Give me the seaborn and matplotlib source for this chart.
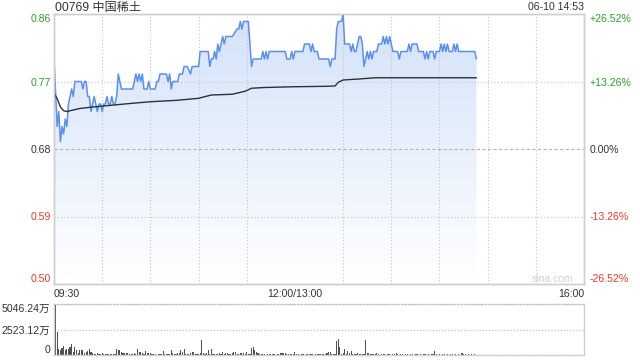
import numpy as np
import matplotlib
matplotlib.use("Agg")
import matplotlib.pyplot as plt
import seaborn as sns
from matplotlib.colors import LinearSegmentedColormap

sns.set_theme(style="white")
plt.rcParams['font.family'] = ['Liberation Sans', 'Noto Sans CJK SC', 'DejaVu Sans']

# ---------------- data ----------------
title = "00769 中国稀土"
stamp = "06-10 14:53"
watermark = "sina.com"
price_ticks = [0.86, 0.77, 0.68, 0.59, 0.50]
price_tick_labels = ["0.86", "0.77", "0.68", "0.59", "0.50"]
pct_labels = ["+26.52%", "+13.26%", "0.00%", "-13.26%", "-26.52%"]
time_tick_minutes = [0, 150, 330]          # trading minutes since 09:30 (lunch removed)
time_tick_labels = ["09:30", "12:00/13:00", "16:00"]
vol_ticks = [0, 2523.12, 5046.24]
vol_tick_labels = ["0", "2523.12万", "5046.24万"]

price_minutes = [0, 2, 3, 4, 5, 6, 7, 8, 9, 10, 11, 12, 13, 17, 18, 19, 20, 21, 22, 23,
                 24, 25, 27, 28, 29, 30, 31, 32, 33, 34, 35, 36, 37, 38, 39, 40, 41, 42, 49, 50,
                 51, 52, 53, 54, 55, 56, 58, 59, 60, 63, 64, 65, 66, 70, 71, 72, 73, 74, 77, 78,
                 80, 81, 83, 85, 86, 90, 91, 96, 97, 98, 99, 100, 101, 102, 103, 104, 105, 106, 107, 111,
                 114, 115, 116, 117, 118, 121, 123, 124, 129, 130, 131, 132, 133, 134, 144, 145, 147, 148, 149, 150,
                 155, 156, 159, 160, 161, 162, 164, 165, 171, 172, 173, 175, 176, 177, 179, 180, 181, 184, 185, 186,
                 187, 188, 189, 190, 191, 192, 193, 195, 196, 197, 198, 199, 201, 202, 204, 205, 206, 207, 208, 209,
                 210, 211, 214, 215, 216, 220, 221, 222, 223, 226, 227, 230, 231, 232, 233, 234, 236, 237, 238, 240,
                 241, 242, 243, 244, 245, 246, 248, 249, 250, 251, 252, 262, 263]
price_values = [.80, .71, .73, .69, .71, .70, .72, .71, .74, .75, .76, .75, .77, .77, .76, .77, .77, .75, .75, .73,
                .74, .75, .73, .74, .74, .73, .74, .74, .75, .74, .74, .75, .74, .74, .75, .78, .77, .76, .76, .77,
                .78, .77, .78, .77, .78, .76, .76, .77, .76, .76, .77, .77, .78, .78, .77, .78, .76, .77, .77, .78,
                .78, .79, .79, .78, .79, .79, .81, .81, .79, .80, .80, .81, .80, .82, .81, .82, .83, .82, .83, .83,
                .84, .84, .85, .84, .85, .85, .79, .80, .80, .81, .80, .81, .80, .81, .81, .80, .80, .81, .80, .81,
                .81, .82, .82, .81, .82, .81, .81, .80, .80, .79, .80, .80, .84, .85, .85, .86, .82, .82, .81, .82,
                .81, .81, .82, .83, .83, .82, .79, .81, .80, .81, .80, .81, .81, .82, .82, .83, .82, .83, .82, .83,
                .82, .81, .81, .80, .81, .81, .82, .81, .82, .82, .81, .81, .80, .81, .80, .81, .81, .80, .81, .81,
                .82, .81, .82, .81, .82, .81, .81, .82, .81, .82, .81, .81, .80]

avg_minutes = [0, 2, 4, 6, 8, 10, 16, 22, 29, 39, 49, 60, 77, 90, 98, 111, 119, 123, 131, 149,
               167, 175, 177, 180, 191, 200, 263]
avg_values = [.755, .747, .736, .731, .730, .731, .734, .7355, .737, .739, .741, .743, .745, .7476, .752,
              .753, .757, .761, .762, .763, .7635, .764, .769, .772, .7735, .775, .775]

volume = [3100, 5046.24, 2320, 560, 500, 730, 900, 500, 560, 560,
          830, 1130, 330, 760, 500, 170, 500, 500, 500, 200,
          330, 430, 560, 330, 200, 60, 100, 170, 60, 100,
          230, 100, 130, 100, 60, 100, 100, 60, 70, 560,
          500, 500, 330, 170, 230, 170, 170, 100, 70, 70,
          170, 100, 560, 330, 330, 230, 100, 400, 230, 230,
          170, 100, 100, 70, 30, 70, 70, 70, 400, 100,
          70, 70, 70, 500, 170, 70, 100, 170, 230, 500,
          330, 560, 70, 70, 70, 170, 270, 330, 70, 70,
          70, 170, 1490, 170, 100, 230, 500, 100, 560, 100,
          70, 70, 100, 170, 70, 330, 70, 170, 230, 100,
          70, 170, 330, 330, 70, 70, 170, 170, 170, 70,
          330, 70, 70, 660, 830, 500, 330, 230, 100, 70,
          70, 60, 40, 80, 50, 60, 100, 50, 40, 60,
          80, 200, 230, 170, 200, 60, 50, 80, 60, 100,
          330, 60, 50, 40, 100, 60, 40, 50, 60, 80,
          50, 60, 40, 100, 60, 50, 80, 60, 50, 100,
          170, 330, 300, 100, 60, 80, 1420, 1590, 760, 100,
          170, 560, 100, 430, 230, 430, 60, 100, 60, 170,
          100, 60, 80, 60, 1490, 170, 230, 60, 50, 100,
          60, 170, 50, 40, 100, 60, 50, 40, 60, 50,
          40, 60, 50, 170, 60, 40, 50, 60, 40, 50,
          60, 40, 60, 50, 40, 60, 50, 40, 60, 40,
          50, 60, 40, 50, 40, 60, 50, 400, 60, 40,
          50, 40, 60, 50, 40, 50, 40, 60, 50, 40,
          50, 40, 60, 40, 170, 50, 60, 40, 50, 40,
          50, 40, 60, 40]

# ---------------- style ----------------
GREEN = '#2aa32a'
RED = '#f03a2e'
DARK = '#333333'
GRID = '#c4c4c4'
FRAME = '#cfcfcf'
label_colors = [GREEN, GREEN, DARK, RED, RED]
FS = 7.6

fig = plt.figure(figsize=(6.4, 3.6), dpi=100, facecolor='white')
ax = fig.add_axes([54 / 640, 76 / 360, 530 / 640, 270 / 360])
axv = fig.add_axes([54 / 640, 5 / 360, 530 / 640, 50.7 / 360])

# gradient area under price line
poly = ax.fill_between(price_minutes, price_values, price_ticks[-1], color='none', lw=0)
grad = np.linspace(1, 0, 256).reshape(-1, 1)
cmap = LinearSegmentedColormap.from_list('g', ['#ffffff', '#d3e2f9'])
im = ax.imshow(grad, cmap=cmap, extent=[0, 330, price_ticks[-1], price_ticks[0]],
               aspect='auto', origin='upper', zorder=0.5, interpolation='bilinear')
im.set_clip_path(poly.get_paths()[0], transform=ax.transData)

sns.lineplot(x=price_minutes, y=price_values, ax=ax, color='#5b8ff2', lw=1.1,
             estimator=None, sort=False, zorder=4)
sns.lineplot(x=avg_minutes, y=avg_values, ax=ax, color='#2b303a', lw=1.0,
             estimator=None, sort=False, zorder=5)

ax.set_xlim(0, 330)
ax.set_ylim(price_ticks[-1], price_ticks[0])
ax.set_xlabel('')
ax.set_ylabel('')
ax.set_axisbelow(False)

# grid
ax.set_xticks(np.arange(30, 330, 30), minor=True)
ax.grid(which='minor', axis='x', color=GRID, lw=0.8, linestyle=(0, (1, 2)), zorder=2)
ax.grid(which='major', axis='y', color=GRID, lw=0.8, linestyle=(0, (1, 2)), zorder=2)
ax.set_yticks(price_ticks)
ax.set_yticklabels(price_tick_labels)
ax.yaxis.get_gridlines()[2].set_linestyle((0, (3, 2)))
ax.yaxis.get_gridlines()[2].set_color('#b4b4b4')
for lbl, c in zip(ax.get_yticklabels(), label_colors):
    lbl.set_color(c)
    lbl.set_fontsize(FS)
ax.get_yticklabels()[0].set_va('top')
ax.get_yticklabels()[-1].set_va('bottom')

ax.set_xticks(time_tick_minutes)
ax.set_xticklabels(time_tick_labels)
for lbl, ha in zip(ax.get_xticklabels(), ['left', 'center', 'right']):
    lbl.set_ha(ha)
    lbl.set_fontsize(FS)
    lbl.set_color(DARK)
ax.tick_params(axis='both', which='both', length=0)
ax.tick_params(axis='y', pad=2.5)
ax.tick_params(axis='x', pad=3.5)
for s in ax.spines.values():
    s.set_color(FRAME)
    s.set_linewidth(1)

axr = ax.twinx()
axr.set_ylim(price_ticks[-1], price_ticks[0])
axr.set_yticks(price_ticks)
axr.set_yticklabels(pct_labels)
for lbl, c in zip(axr.get_yticklabels(), label_colors):
    lbl.set_color(c)
    lbl.set_fontsize(FS)
axr.get_yticklabels()[0].set_va('top')
axr.get_yticklabels()[-1].set_va('bottom')
axr.tick_params(axis='y', length=0, pad=4)
for s in axr.spines.values():
    s.set_color(FRAME)
    s.set_linewidth(1)
axr.grid(False)

# volume panel
axv.bar(np.arange(len(volume)), volume, width=0.7, color='#505050', lw=0)
axv.set_xlim(0, 330)
axv.set_ylim(0, vol_ticks[-1])
axv.set_xticks([])
axv.set_yticks(vol_ticks)
axv.set_yticklabels(vol_tick_labels)
for lbl in axv.get_yticklabels():
    lbl.set_color(DARK)
    lbl.set_fontsize(FS)
axv.get_yticklabels()[-1].set_va('top')
axv.get_yticklabels()[0].set_va('bottom')
axv.tick_params(axis='y', length=0, pad=2.5)
axv.grid(which='major', axis='y', color=GRID, lw=0.9, linestyle=(0, (1, 1.5)))
for s in axv.spines.values():
    s.set_color(FRAME)
    s.set_linewidth(1)
axv.spines['top'].set_linestyle((0, (1, 1.5)))
axv.spines['top'].set_color(GRID)

# texts
fig.text(55 / 640, 1 - 7.5 / 360, title, ha='left', va='center', fontsize=8.7, color=DARK)
fig.text(584 / 640, 1 - 7.5 / 360, stamp, ha='right', va='center', fontsize=FS, color=DARK)
fig.text(552 / 640, 1 - 279 / 360, watermark, ha='center', va='center', fontsize=7.5, color='#cfcfcf')

fig.savefig('out.png', dpi=100, facecolor='white')
